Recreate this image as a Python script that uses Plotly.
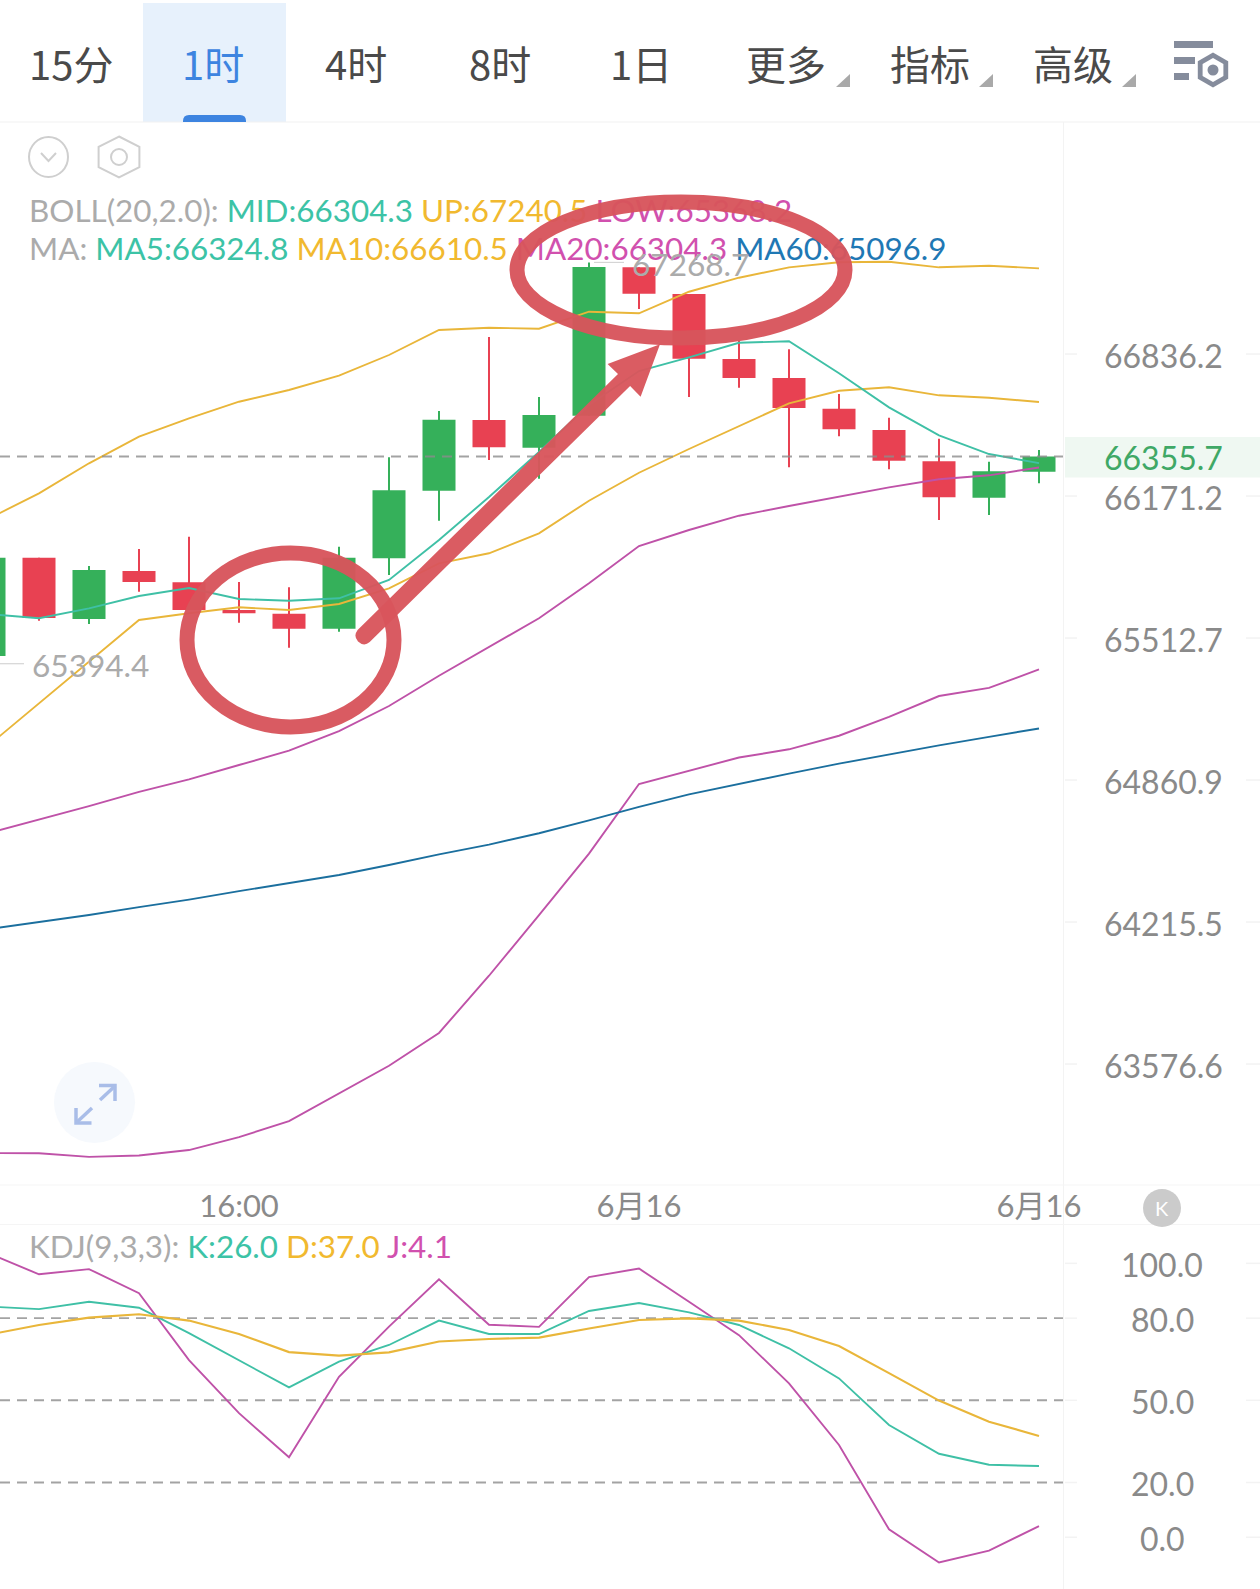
import math
import plotly.graph_objects as go

W, H = 1260, 1589

# ---- one-hour candles ----
candle_idx = list(range(22))
opens = [65429.9, 65884.4, 65600.6, 65822.7, 65770.3, 65642.2, 65625.1, 65555.8, 65881.5, 66195.9, 66526.3,
         66396.7, 66546.4, 67245.5, 67119.2, 66812.7, 66723.3, 66579.3, 66479.5, 66333.1, 66163.3, 66284.5]
highs = [65884.4, 65884.4, 65845.8, 65924.7, 65981.8, 65771.7, 65747.2, 65935.4, 66351.8, 66568.4, 66916.2,
         66634.1, 67268.7, 67245.5, 67119.2, 66898.8, 66858.3, 66648.2, 66537.1, 66438.8, 66331.2, 66385.9]
lows = [65394.4, 65592.8, 65577.5, 65726.8, 65642.2, 65583.5, 65468.2, 65542.0, 65804.1, 66056.2, 66339.2,
        66251.9, 66545.0, 67048.3, 66634.1, 66677.8, 66305.0, 66449.9, 66295.7, 66059.5, 66082.7, 66230.4]
closes = [65884.4, 65605.2, 65827.3, 65771.7, 65642.2, 65626.9, 65555.8, 65884.4, 66197.8, 66527.7, 66398.5,
          66549.7, 67247.0, 67120.6, 66814.1, 66723.3, 66582.5, 66482.7, 66335.9, 66165.1, 66286.4, 66355.7]

# ---- overlays on the price pane ----
boll_up = [66066.5, 66183.8, 66323.8, 66448.1, 66534.3, 66612.1, 66667.0, 66734.2, 66831.5, 66949.3, 66960.1,
           66955.4, 67035.6, 67028.1, 67130.0, 67196.3, 67245.5, 67269.2, 67272.0, 67245.5, 67253.1, 67240.5]
boll_low = [63179.4, 63178.5, 63162.5, 63168.7, 63192.7, 63250.1, 63321.9, 63444.2, 63569.0, 63716.1, 63973.2,
            64247.2, 64525.7, 64842.7, 64902.0, 64963.8, 65001.4, 65063.6, 65150.2, 65245.7, 65283.1, 65368.2]
ma5 = [65623.7, 65603.9, 65650.0, 65706.9, 65744.0, 65693.0, 65685.2, 65696.3, 65781.0, 65966.5, 66166.6,
       66376.6, 66596.6, 66756.2, 66820.7, 66889.4, 66896.0, 66745.4, 66585.8, 66454.7, 66367.2, 66324.8]
ma10 = [65021.0, 65212.2, 65403.6, 65595.9, 65626.9, 65654.6, 65642.2, 65669.9, 65742.5, 65858.4, 65904.8,
        65997.6, 66149.3, 66279.8, 66390.6, 66498.2, 66604.6, 66663.7, 66679.7, 66642.1, 66630.8, 66610.5]
ma20 = [64619.3, 64680.3, 64741.8, 64807.1, 64864.2, 64929.5, 64995.0, 65085.2, 65199.8, 65339.1, 65469.9,
        65603.9, 65765.7, 65938.6, 66012.9, 66079.5, 66124.6, 66168.0, 66211.7, 66249.1, 66267.7, 66304.3]
ma60 = [64184.0, 64215.2, 64247.2, 64283.0, 64317.0, 64355.5, 64392.7, 64428.5, 64473.9, 64522.5, 64566.6,
        64618.5, 64676.6, 64738.6, 64795.7, 64844.5, 64890.2, 64935.9, 64978.4, 65019.2, 65058.6, 65096.9]

# ---- KDJ pane ----
kdj_k = [84.2, 83.3, 86.0, 83.8, 74.5, 64.7, 54.7, 64.1, 70.2, 79.1, 74.2,
         74.2, 82.6, 85.5, 82.1, 77.5, 69.0, 58.0, 41.0, 30.5, 26.5, 26.0]
kdj_d = [74.0, 77.5, 80.2, 81.4, 79.1, 74.2, 67.6, 66.3, 67.5, 71.5, 72.4,
         72.9, 76.2, 79.3, 79.9, 79.1, 75.7, 69.8, 59.9, 49.9, 42.2, 37.0]
kdj_j = [103.6, 96.0, 97.9, 89.1, 64.7, 45.3, 29.2, 58.6, 76.9, 94.2, 77.6,
         76.8, 95.0, 98.1, 86.0, 73.8, 56.2, 33.7, 2.9, -9.2, -4.9, 4.1]

price_ticks = [66836.2, 66171.2, 65512.7, 64860.9, 64215.5, 63576.6]
kdj_ticks = [100.0, 80.0, 50.0, 20.0, 0.0]
kdj_dashes = [80.0, 50.0, 20.0]
last_price = 66355.7
high_price = 67268.7
low_price = 65394.4
time_ticks = [5, 13, 21]
time_labels = ["16:00", "6月16", "6月16"]
tabs = ["15分", "1时", "4时", "8时", "1日", "更多", "指标", "高级"]

TEAL, YELLOW, MAGENTA, BLUE = "#3cc3a6", "#f1b92f", "#d150ae", "#1f78b4"
LINE_TEAL, LINE_YELLOW, LINE_MAGENTA, LINE_BLUE = "#3fc0a6", "#e9b63a", "#bf52a8", "#1b6f9e"
UP, DOWN = "#35b05a", "#e84152"
GREY, AXIS_GREY = "#ababab", "#8a8a8a"
STROKE = "#d8555c"
LATIN = "Lato, 'Noto Sans CJK SC', sans-serif"
CJK = "'Noto Sans CJK SC', sans-serif"
FAINT = "#f3f3f3"
DASH_GREY = "rgba(140,140,140,0.8)"

# axis windows shared by the two chart panes
X_LO, X_HI = 0.22, 25.42
PRICE_TOP, PRICE_BOTTOM = 67922.8, 63037.4
KDJ_TOP, KDJ_BOTTOM = 114.0, -18.88


def span(seq):
    """Stub segments, broken with None between ticks."""
    xs, ys = [], []
    for v in seq:
        xs += [21.52, 21.76, None, 25.14, 25.42, None]
        ys += [v, v, None, v, v, None]
    return xs, ys


fig = go.Figure()


def line(x, y, color, width=1.9, dash=None, xa="x", ya="y"):
    fig.add_trace(go.Scatter(x=x, y=y, mode="lines", xaxis=xa, yaxis=ya,
                             line=dict(color=color, width=width, dash=dash, shape="linear"),
                             hoverinfo="skip", showlegend=False))


# price pane
sx, sy = span(price_ticks)
line(sx, sy, FAINT, 1.5)


def candles(rising, color):
    """Wicks and bodies of one direction, as vertical segments on the price scale."""
    wx, wy, bx, by = [], [], [], []
    for i, o, h, l, c in zip(candle_idx, opens, highs, lows, closes):
        if (c >= o) == rising:
            wx += [i, i, None]
            wy += [l, h, None]
            bx += [i, i, None]
            by += [o, c, None]
    line(wx, wy, color, 2)
    line(bx, by, color, 33)


candles(True, UP)
candles(False, DOWN)
line(candle_idx, boll_up, LINE_YELLOW)
line(candle_idx, ma10, LINE_YELLOW)
line(candle_idx, ma5, LINE_TEAL)
line(candle_idx, ma20, LINE_MAGENTA)
line(candle_idx, boll_low, LINE_MAGENTA)
line(candle_idx, ma60, LINE_BLUE)
line([X_LO, 21.48], [last_price, last_price], DASH_GREY, 1.9, "10px,7px")

# extreme-price callouts
line([12.1, 12.7], [high_price, high_price], "#d5d5d5", 1.2)
line([X_LO, 0.7], [low_price, low_price], "#d5d5d5", 1.2)

# KDJ pane
sx, sy = span(kdj_ticks)
line(sx, sy, FAINT, 1.5, xa="x2", ya="y2")
for level in kdj_dashes:
    line([X_LO, 21.48], [level, level], DASH_GREY, 1.9, "10px,7px", "x2", "y2")
line(candle_idx, kdj_j, LINE_MAGENTA, xa="x2", ya="y2")
line(candle_idx, kdj_k, LINE_TEAL, xa="x2", ya="y2")
line(candle_idx, kdj_d, LINE_YELLOW, 2.1, xa="x2", ya="y2")


def tinted(*parts):
    return "".join(f"<span style='color:{c}'>{t}</span>" for t, c in parts)


y_of_price = lambda p: 354 + (math.log(price_ticks[0] / p) / 0.0100) * 142

# indicator read-outs and price callouts sit under the hand-drawn strokes
readouts = [
    (29, 214, 31.4, tinted(("BOLL(20,2.0): ", GREY), (f"MID:{ma20[-1]}", TEAL), (f" UP:{boll_up[-1]}", YELLOW),
                           (f" LOW:{boll_low[-1]}", MAGENTA))),
    (29, 252, 31.4, tinted(("MA: ", GREY), (f"MA5:{ma5[-1]}", TEAL), (f" MA10:{ma10[-1]}", YELLOW),
                           (f" MA20:{ma20[-1]}", MAGENTA), (f" MA60:{ma60[-1]}", BLUE))),
    (29, 1250, 31.4, tinted(("KDJ(9,3,3): ", GREY), (f"K:{kdj_k[-1]}", TEAL), (f" D:{kdj_d[-1]}", YELLOW),
                            (f" J:{kdj_j[-1]}", MAGENTA))),
    (632, y_of_price(high_price) + 6, 31.6, f"{high_price:.1f}"),
    (32, y_of_price(low_price) + 5, 31.6, f"{low_price:.1f}"),
]
fig.add_trace(go.Scatter(x=[r[0] for r in readouts], y=[r[1] for r in readouts], mode="text",
                         text=[r[3] for r in readouts], textposition="middle right",
                         textfont=dict(family=LATIN, size=[r[2] for r in readouts], color=GREY),
                         xaxis="x3", yaxis="y3", hoverinfo="skip", showlegend=False))

shapes = []


def px(kind, x0, y0, x1, y1, fill=None, stroke=None, lw=0, layer="above", opacity=1):
    shapes.append(dict(type=kind, xref="x3", yref="y3", x0=x0, y0=y0, x1=x1, y1=y1, layer=layer,
                       fillcolor=fill or "rgba(0,0,0,0)", opacity=opacity,
                       line=dict(color=stroke or "rgba(0,0,0,0)", width=lw)))


def poly(points, fill=None, stroke=None, lw=0, closed=True, opacity=1):
    d = "M" + " L".join(f"{x:.1f},{y:.1f}" for x, y in points) + (" Z" if closed else "")
    shapes.append(dict(type="path", xref="x3", yref="y3", path=d, layer="above", opacity=opacity,
                       fillcolor=fill or "rgba(0,0,0,0)",
                       line=dict(color=stroke or "rgba(0,0,0,0)", width=lw)))


def hexagon(cx, cy, r, stretch=1.0):
    return [(cx + stretch * r * math.sin(math.radians(a)), cy - r * math.cos(math.radians(a)))
            for a in range(0, 360, 60)]


# toolbar
px("rect", 143, 3, 286, 122, fill="#e7f1fc", layer="below")
shapes.append(dict(type="path", xref="x3", yref="y3", layer="above", fillcolor="#3d84e0",
                   line=dict(color="rgba(0,0,0,0)", width=0),
                   path="M183,122 L183,121 Q183,115 189,115 L240,115 Q246,115 246,121 L246,122 Z"))
px("rect", 0, 121.5, W, 122.5, fill="#f2f2f2", layer="below")
for xa_ in (836, 979, 1122):
    poly([(xa_, 87), (xa_ + 14, 87), (xa_ + 14, 74)], fill="#a9a9a9")
for x0, x1, y0, y1 in ((1174, 1213, 41, 48), (1174, 1195, 57, 64), (1174, 1189, 73, 80)):
    px("rect", x0, y0, x1, y1, fill="#858c9c")
poly(hexagon(1213, 70, 17.5), fill="#858c9c")
poly(hexagon(1213, 70, 12), fill="#ffffff")
px("circle", 1207.5, 64.5, 1218.5, 75.5, fill="#858c9c")

# round buttons over the price pane
px("circle", 29, 137, 68, 177, stroke="#cfcfcf", lw=2)
poly([(41, 153), (48.5, 161), (56, 153)], stroke="#cfcfcf", lw=2, closed=False)
poly(hexagon(119, 157, 20.5, 1.15), stroke="#cfcfcf", lw=2)
px("circle", 111, 149, 127, 165, stroke="#cfcfcf", lw=2)

# pane rules
px("rect", 1063, 122, 1064, H, fill=FAINT, layer="below")
px("rect", 0, 1184.5, W, 1185.5, fill="#f5f5f5", layer="below")
px("rect", 0, 1224, W, 1225, fill="#f5f5f5", layer="below")
px("rect", 1065, 437, W, 477.5, fill="#eff8f2", layer="below")

# fullscreen button
px("circle", 54, 1062, 135, 1143, fill="#f6f9fd", layer="below")
for pts in ([(99, 1085.5), (115, 1085.5), (115, 1101)], [(100, 1100), (115, 1086)],
            [(76, 1108), (76, 1123), (91.5, 1123)], [(76.5, 1122.5), (92, 1108)]):
    poly(pts, stroke="#a9bde8", lw=3.5, closed=False)

# "K" badge
px("circle", 1143, 1189, 1181, 1227, fill="#cbcbcb")

# hand-drawn red strokes
px("circle", 187, 553, 394, 727, stroke=STROKE, lw=15, opacity=0.96)
px("circle", 517, 202, 845, 338, stroke=STROKE, lw=15, opacity=0.96)
shapes.append(dict(type="path", xref="x3", yref="y3", layer="above", opacity=0.96, fillcolor=STROKE,
                   line=dict(color="rgba(0,0,0,0)", width=0),
                   path="M357.6,629.9 L618,373.9 L607.6,364 L660,344.3 L640.6,396.7 L630.1,386 "
                        "L369.7,642 Q364,647 358,641.5 Q353,636 357.6,629.9 Z"))

notes = []


def label(x, y, text, size=32, color=AXIS_GREY, family=LATIN):
    notes.append(dict(x=x, y=y, xref="x3", yref="y3", text=text, showarrow=False, xanchor="center",
                      yanchor="middle", font=dict(family=family, size=size, color=color)))


for name, cx in zip(tabs, (71, 213, 356, 500, 641, 786, 930, 1073)):
    label(cx, 63, name, 40, "#3d84e0" if name == "1时" else "#4a4a4a", CJK)
label(1162, 1208, "K", 20, "#ffffff")

# right-hand scales: each label sits beside the tick it names
for p in price_ticks:
    label(1163, y_of_price(p) + 1.2, f"{p:.1f}")
label(1163, y_of_price(last_price) + 1.5, f"{last_price:.1f}", 32, "#3fa866")
for v in kdj_ticks:
    label(1162, 1537.3 - 2.74 * v + 1.2, f"{v:.1f}")

blank = dict(showgrid=False, zeroline=False, showticklabels=False, ticks="", showline=False)
dom_price = [1 - 1185 / H, 1 - 125 / H]
dom_kdj = [0, 1 - 1225 / H]

fig.update_layout(
    width=W, height=H, margin=dict(l=0, r=0, t=0, b=0), autosize=False,
    paper_bgcolor="#ffffff", plot_bgcolor="rgba(0,0,0,0)",
    showlegend=False, hovermode=False,
    shapes=shapes, annotations=notes,
    xaxis=dict(range=[X_LO, X_HI], domain=[0, 1], anchor="y", showgrid=False, zeroline=False, showline=False,
               tickmode="array", tickvals=time_ticks, ticktext=time_labels,
               ticks="", tickfont=dict(family=LATIN, size=31, color=AXIS_GREY)),
    yaxis=dict(type="log", range=[math.log10(PRICE_BOTTOM), math.log10(PRICE_TOP)], domain=dom_price,
               anchor="x", **blank),
    xaxis2=dict(range=[X_LO, X_HI], domain=[0, 1], anchor="y2", **blank),
    yaxis2=dict(range=[KDJ_BOTTOM, KDJ_TOP], domain=dom_kdj, anchor="x2", **blank),
    xaxis3=dict(range=[0, W], domain=[0, 1], anchor="y3", **blank),
    yaxis3=dict(range=[H, 0], domain=[0, 1], anchor="x3", **blank),
)

fig.write_html("out.html", config=dict(displayModeBar=False))
